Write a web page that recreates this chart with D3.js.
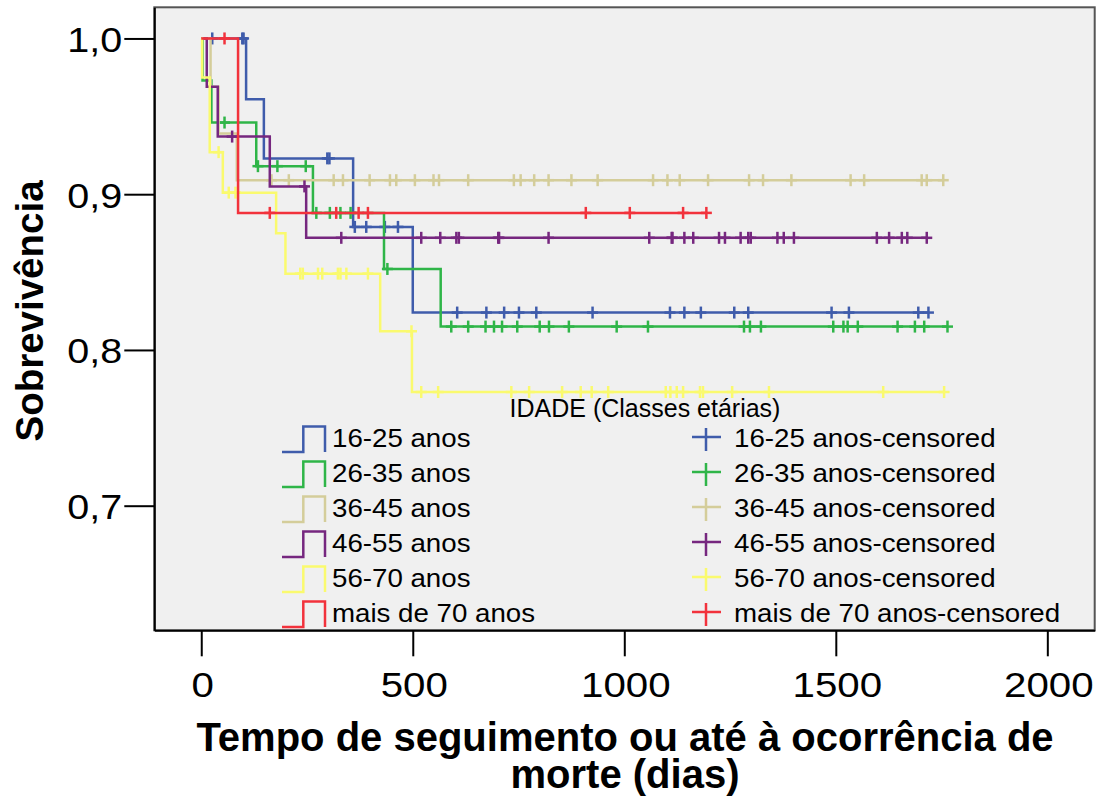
<!DOCTYPE html>
<html lang="pt">
<head>
<meta charset="utf-8">
<title>Sobrevivência por classe etária</title>
<script src="https://cdn.jsdelivr.net/npm/d3@7/dist/d3.min.js"></script>
<style>
  body { margin: 0; background: #fff; }
  svg text { font-family: "Liberation Sans", Arial, sans-serif; fill: #000; }
</style>
</head>
<body>
<svg id="grafico" width="1099" height="796"></svg>
<script>
// classes etárias e cores
var grupos = ["16-25 anos", "26-35 anos", "36-45 anos", "46-55 anos", "56-70 anos", "mais de 70 anos"];
var cores = ["#3f5cab", "#2fb548", "#d4cd9a", "#76277f", "#fafa6e", "#f2323c"];

// tempos (dias) das quedas e sobrevivência depois de cada queda
var quedas16 = [106, 148, 359, 500];
var sobrev16 = [0.961, 0.923, 0.879, 0.824];
var censura16 = [26, 97, 100, 298, 303, 363, 390, 434, 465, 605, 674, 716, 751, 792, 925, 1108, 1142, 1181, 1260, 1293, 1490, 1531, 1695, 1719];

var quedas26 = [3, 24, 130, 264, 432, 566];
var sobrev26 = [0.973, 0.946, 0.918, 0.888, 0.852, 0.815];
var censura26 = [55, 134, 180, 247, 272, 304, 329, 353, 440, 591, 631, 672, 692, 711, 747, 800, 822, 869, 982, 1056, 1283, 1297, 1323, 1494, 1518, 1528, 1552, 1646, 1687, 1709, 1764];

var quedas36 = [22, 41, 84];
var sobrev36 = [0.969, 0.939, 0.909];
var censura36 = [166, 207, 313, 335, 398, 446, 461, 505, 549, 562, 631, 739, 755, 787, 821, 875, 937, 1068, 1102, 1131, 1198, 1295, 1328, 1395, 1535, 1567, 1703, 1715, 1754];

var quedas46 = [13, 39, 162, 248];
var sobrev46 = [0.969, 0.937, 0.905, 0.872];
var censura46 = [73, 244, 331, 520, 565, 603, 609, 702, 704, 821, 1059, 1112, 1114, 1142, 1163, 1224, 1238, 1275, 1293, 1299, 1362, 1377, 1401, 1597, 1626, 1656, 1669, 1715];

var quedas56 = [2, 20, 51, 177, 199, 423, 498];
var sobrev56 = [0.975, 0.927, 0.901, 0.875, 0.849, 0.812, 0.773];
var censura56 = [41, 65, 81, 234, 240, 276, 286, 323, 329, 343, 394, 497, 520, 560, 733, 775, 853, 897, 923, 962, 1098, 1109, 1124, 1139, 1179, 1186, 1255, 1342, 1612, 1756];

var quedas70 = [87];
var sobrev70 = [0.888];
var censura70 = [55, 162, 319, 372, 394, 909, 1013, 1139, 1194];

var ticksX = [0, 500, 1000, 1500, 2000];
var ticksY = [0.7, 0.8, 0.9, 1.0];

var series = [
  {nome: grupos[0], cor: cores[0], t: quedas16, s: sobrev16, c: censura16},
  {nome: grupos[1], cor: cores[1], t: quedas26, s: sobrev26, c: censura26},
  {nome: grupos[2], cor: cores[2], t: quedas36, s: sobrev36, c: censura36},
  {nome: grupos[3], cor: cores[3], t: quedas46, s: sobrev46, c: censura46},
  {nome: grupos[4], cor: cores[4], t: quedas56, s: sobrev56, c: censura56},
  {nome: grupos[5], cor: cores[5], t: quedas70, s: sobrev70, c: censura70}
];

var svg = d3.select("#grafico");

// area do grafico
var esq = 154.3, topo = 7.3, dir = 1094.7, base = 630.3;

var x = d3.scaleLinear().domain([-111, 2112]).range([esq, dir]);
var y = d3.scaleLinear().domain([0.62, 1.02]).range([base, topo]);

svg.append("rect")
  .attr("x", esq).attr("y", topo)
  .attr("width", dir - esq).attr("height", base - topo)
  .attr("fill", "#f0f0f0")
  .attr("stroke", "#555")
  .attr("stroke-width", 2);

// eixos
var fmt = function(d){ return d3.format(".1f")(d).replace(".", ","); };

var eixoY = svg.append("g")
  .attr("transform", "translate(" + esq + ",0)")
  .call(d3.axisLeft(y).tickValues(ticksY).tickFormat(fmt).tickSize(30).tickSizeOuter(0));
eixoY.select(".domain").attr("stroke", "#000").attr("stroke-width", 2);
eixoY.selectAll(".tick line").attr("stroke", "#000").attr("stroke-width", 2);
// o texto original aparece um pouco esticado na horizontal
eixoY.selectAll(".tick text")
  .attr("font-size", "35px")
  .attr("font-family", "Liberation Sans, Arial, sans-serif")
  .attr("x", 0).attr("dy", 0)
  .attr("transform", "translate(-32,13) scale(1.13,1)");

var eixoX = svg.append("g")
  .attr("transform", "translate(0," + base + ")")
  .call(d3.axisBottom(x).tickValues(ticksX).tickFormat(d3.format("d")).tickSize(26).tickSizeOuter(0));
eixoX.select(".domain").attr("stroke", "#000").attr("stroke-width", 2);
eixoX.selectAll(".tick line").attr("stroke", "#000").attr("stroke-width", 2);
eixoX.selectAll(".tick text")
  .attr("font-size", "35px")
  .attr("font-family", "Liberation Sans, Arial, sans-serif")
  .attr("y", 0).attr("dy", 0)
  .attr("transform", "translate(1,67) scale(1.15,1)");

// curvas de Kaplan-Meier
function valorEm(serie, tempo){
  var v = 1;
  for (var i = 0; i < serie.t.length; i++){
    if (serie.t[i] <= tempo) v = serie.s[i];
  }
  return v;
}

var linha = d3.line()
  .x(function(d){ return x(d[0]); })
  .y(function(d){ return y(d[1]); })
  .curve(d3.curveStepAfter);

series.forEach(function(serie){
  var pontos = [[0, 1]];
  for (var i = 0; i < serie.t.length; i++){
    pontos.push([serie.t[i], serie.s[i]]);
  }
  var fim = Math.max(d3.max(serie.c), d3.max(serie.t));
  pontos.push([fim, serie.s[serie.s.length - 1]]);

  var g = svg.append("g");
  g.append("path")
    .datum(pontos)
    .attr("d", linha)
    .attr("fill", "none")
    .attr("stroke", serie.cor)
    .attr("stroke-width", 2.5);

  // marcas de censura "+"
  var marcas = g.selectAll("g.censura")
    .data(serie.c)
    .enter()
    .append("g")
    .attr("transform", function(d){ return "translate(" + x(d) + "," + y(valorEm(serie, d)) + ")"; });
  marcas.append("line")
    .attr("x1", 0).attr("x2", 0).attr("y1", -6).attr("y2", 6)
    .attr("stroke", serie.cor).attr("stroke-width", 2.5);
  marcas.append("line")
    .attr("x1", -5.5).attr("x2", 5.5).attr("y1", 0).attr("y2", 0)
    .attr("stroke", serie.cor).attr("stroke-width", 2.5);
});

// legenda
svg.append("text")
  .attr("x", 645).attr("y", 417)
  .attr("text-anchor", "middle")
  .attr("font-size", "25px")
  .text("IDADE (Classes etárias)");

var legenda = svg.selectAll("g.leg")
  .data(series)
  .enter()
  .append("g")
  .attr("transform", function(d, i){ return "translate(0," + (447 + 35 * i) + ")"; });

legenda.append("path")
  .attr("d", "M282,5H303.3V-20.5H325V5")
  .attr("fill", "none")
  .attr("stroke", function(d){ return d.cor; })
  .attr("stroke-width", 2.5);
legenda.append("text")
  .attr("transform", "translate(332,0) scale(1.065,1)")
  .attr("font-size", "26px")
  .text(function(d){ return d.nome; });

legenda.append("line")
  .attr("x1", 692).attr("x2", 721).attr("y1", -10).attr("y2", -10)
  .attr("stroke", function(d){ return d.cor; }).attr("stroke-width", 2.5);
legenda.append("line")
  .attr("x1", 706).attr("x2", 706).attr("y1", -19).attr("y2", 4)
  .attr("stroke", function(d){ return d.cor; }).attr("stroke-width", 2.5);
legenda.append("text")
  .attr("transform", "translate(734,0) scale(1.065,1)")
  .attr("font-size", "26px")
  .text(function(d){ return d.nome + "-censored"; });

// titulos dos eixos
svg.append("text")
  .attr("transform", "translate(43,311) rotate(-90)")
  .attr("text-anchor", "middle")
  .attr("font-size", "38.5px")
  .attr("font-weight", "bold")
  .text("Sobrevivência");

svg.append("text")
  .attr("x", 625).attr("y", 751)
  .attr("text-anchor", "middle")
  .attr("font-size", "40px")
  .attr("font-weight", "bold")
  .text("Tempo de seguimento ou até à ocorrência de");
svg.append("text")
  .attr("x", 625).attr("y", 788)
  .attr("text-anchor", "middle")
  .attr("font-size", "40px")
  .attr("font-weight", "bold")
  .text("morte (dias)");
</script>
</body>
</html>
